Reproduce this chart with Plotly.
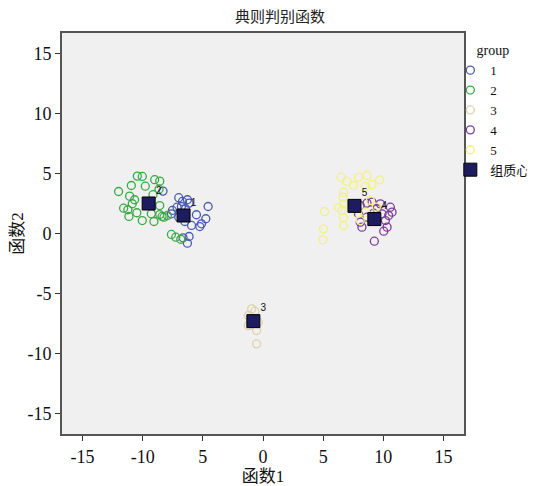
import plotly.graph_objects as go

# ---- data ----
g1_x = [-8.31, -7.0, -6.69, -6.28, -6.14, -7.53, -7.14, -6.78, -6.44, -7.0, -6.5, -5.94, -5.25, -5.11, -4.75, -4.56, -6.14, -6.28, -6.64, -5.53, -7.61]
g1_y = [3.53, 2.98, 2.67, 2.81, 2.53, 1.92, 2.19, 2.25, 2.06, 1.36, 1.0, 0.67, 0.58, 0.81, 1.23, 2.25, -0.25, -0.81, -0.36, 1.56, 1.64]

g2_x = [-10.44, -10.03, -9.0, -8.58, -10.94, -9.78, -8.64, -12.0, -11.08, -9.14, -10.67, -10.86, -11.58, -11.23, -10.48, -8.58, -8.58, -9.28, -8.39, -8.23, -11.14, -10.03, -9.06, -7.61, -7.25, -6.83, -7.94]
g2_y = [4.78, 4.75, 4.48, 4.36, 4.0, 3.94, 3.69, 3.5, 3.11, 3.23, 2.81, 2.48, 2.11, 1.98, 1.73, 2.33, 1.58, 1.64, 1.42, 1.36, 1.42, 1.08, 1.0, -0.08, -0.31, -0.48, 1.5]

g3_x = [-0.94, -0.67, -1.22, -0.39, -1.22, -0.53, -0.53]
g3_y = [-6.28, -6.47, -6.83, -7.39, -7.67, -8.08, -9.19]

g4_x = [7.67, 8.08, 8.64, 9.06, 9.75, 10.58, 10.72, 10.44, 10.17, 10.31, 10.03, 9.25, 8.22, 8.08, 8.64, 9.19, 9.89, 7.94, 9.47]
g4_y = [2.47, 2.33, 2.53, 2.61, 2.47, 2.19, 1.78, 1.5, 1.08, 0.53, 0.19, -0.64, 0.53, 0.94, 1.36, 1.69, 1.64, 1.58, 2.06]

g5_x = [6.5, 6.97, 7.94, 8.64, 9.69, 9.06, 8.5, 7.53, 6.69, 6.64, 6.69, 6.28, 5.11, 6.56, 6.69, 6.69, 5.03, 4.97, 7.81, 8.08, 8.5, 9.42, 8.92]
g5_y = [4.69, 4.36, 4.69, 4.83, 4.47, 4.08, 3.92, 4.0, 3.44, 3.03, 2.47, 2.14, 1.83, 1.92, 1.31, 0.67, 0.39, -0.53, 1.64, 1.08, 1.78, 2.19, 2.75]

centroid_labels = ["1", "2", "3", "4", "5"]
centroid_x = [-6.6, -9.5, -0.8, 9.25, 7.6]
centroid_y = [1.5, 2.5, -7.3, 1.2, 2.3]

group_names = ["1", "2", "3", "4", "5"]
group_colors = ["#4a5aae", "#3aa845", "#dcd3a8", "#7a3f98", "#f3f27c"]

x_tickvals = [-15, -10, -5, 0, 5, 10, 15]
x_ticktext = ["-15", "-10", "5", "0", "5", "10", "15"]
y_tickvals = [-15, -10, -5, 0, 5, 10, 15]
y_ticktext = ["-15", "-10", "-5", "0", "5", "10", "15"]

serif = "Liberation Serif, Times New Roman, Noto Sans CJK SC, serif"

fig = go.Figure()
groups = [(g1_x, g1_y), (g2_x, g2_y), (g3_x, g3_y), (g4_x, g4_y), (g5_x, g5_y)]
for (gx, gy), name, col in zip(groups, group_names, group_colors):
    fig.add_trace(go.Scatter(
        x=gx, y=gy, mode="markers", name=name,
        marker=dict(symbol="circle-open", size=8, color=col, line=dict(width=1.3, color=col)),
    ))

fig.add_trace(go.Scatter(
    x=centroid_x, y=centroid_y, mode="markers", name="组质心",
    marker=dict(symbol="square", size=13, color="#1c1c5e", line=dict(width=1, color="#000000")),
))
# labels next to the centroids (invisible marker gives the text its offset)
fig.add_trace(go.Scatter(
    x=centroid_x, y=centroid_y, mode="markers+text", text=centroid_labels,
    textposition="top right", showlegend=False, hoverinfo="skip",
    marker=dict(size=10, color="rgba(0,0,0,0)"),
    textfont=dict(family="Arial, Liberation Sans", size=10, color="#111111"),
))

fig.update_layout(
    width=527, height=478,
    margin=dict(l=54, r=71, t=25, b=52, autoexpand=False),
    paper_bgcolor="#ffffff",
    plot_bgcolor="#f0f0f0",
    font=dict(family=serif, color="#111111"),
    title=dict(text="典则判别函数", x=0.516, xanchor="center", y=0.981, yanchor="middle",
               font=dict(family=serif, size=15, color="#222222")),
    showlegend=True,
    legend=dict(
        x=0.966, y=0.99, xanchor="left", yanchor="top",
        title=dict(text="group", side="top center", font=dict(family=serif, size=14)),
        font=dict(family=serif, size=13),
        bgcolor="rgba(0,0,0,0)", tracegroupgap=0, itemwidth=30,
    ),
    xaxis=dict(
        range=[-16.7, 16.7], tickvals=x_tickvals, ticktext=x_ticktext,
        showgrid=False, zeroline=False, showline=True, linecolor="#555555", linewidth=2, mirror=True,
        ticks="outside", ticklen=5, tickcolor="#333333",
        tickfont=dict(family=serif, size=18),
        title=dict(text="函数1", font=dict(family=serif, size=17), standoff=0),
    ),
    yaxis=dict(
        range=[-16.7, 16.7], tickvals=y_tickvals, ticktext=y_ticktext,
        showgrid=False, zeroline=False, showline=True, linecolor="#555555", linewidth=2, mirror=True,
        ticks="outside", ticklen=5, tickcolor="#333333",
        tickfont=dict(family=serif, size=18),
        title=dict(text="函数2", font=dict(family=serif, size=17), standoff=4),
    ),
)

fig.write_html("out.html")
